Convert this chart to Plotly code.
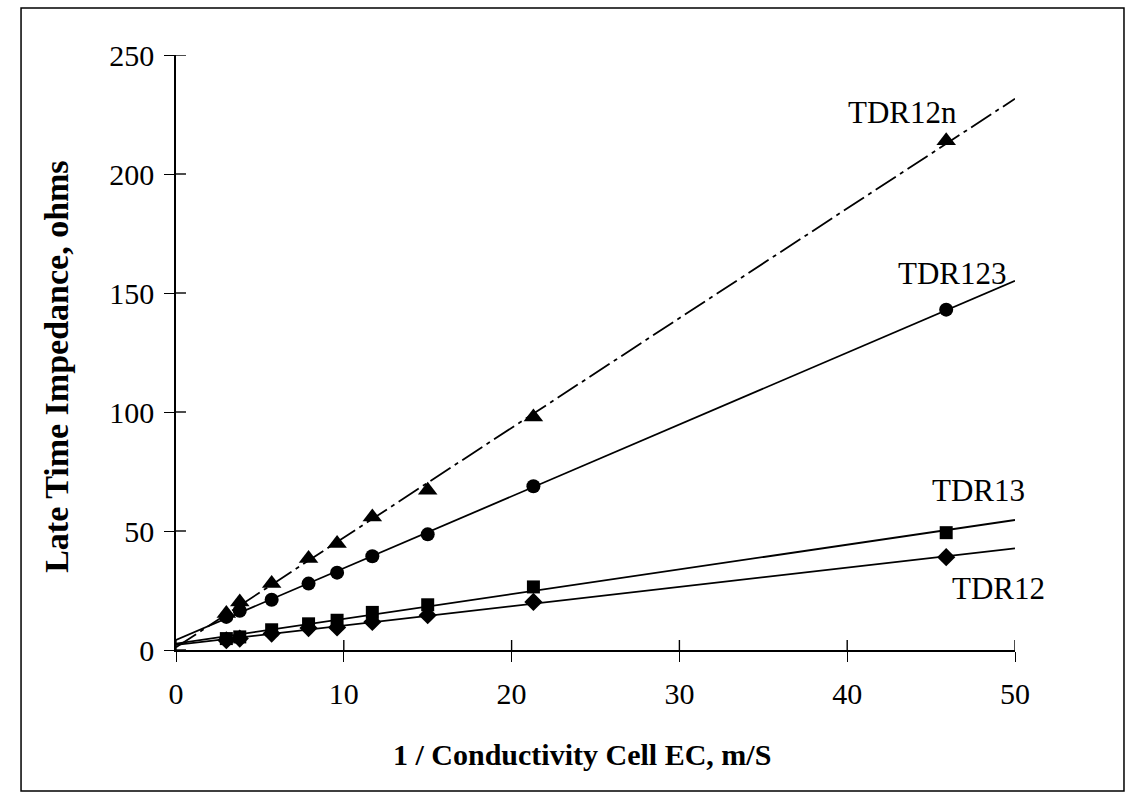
import numpy as np
import plotly.graph_objects as go

# ---- data ----
x_ec = [3.0, 3.8, 5.7, 7.9, 9.6, 11.7, 15.0, 21.3, 45.9]
tdr12n = [15.3, 20.2, 27.9, 38.4, 44.7, 55.9, 67.1, 97.9, 214.0]
tdr123 = [13.9, 16.5, 21.1, 27.9, 32.5, 39.4, 48.6, 68.8, 143.0]
tdr13 = [4.8, 5.5, 8.5, 11.0, 12.5, 15.8, 19.0, 26.5, 49.3]
tdr12 = [4.1, 4.8, 6.9, 9.2, 9.5, 11.8, 14.6, 20.2, 39.0]

series_names = ["TDR12n", "TDR123", "TDR13", "TDR12"]
series_vals = [tdr12n, tdr123, tdr13, tdr12]
symbols = ["triangle-up", "circle", "square", "diamond"]
msizes = [17, 14, 13, 14]
dashes = ["24px,5px,4px,5px", "solid", "solid", "solid"]

label_x = [43.3, 46.3, 47.8, 49.0]
label_y = [226.0, 158.0, 67.0, 26.0]

x_tick_vals = [0, 10, 20, 30, 40, 50]
y_tick_vals = [0, 50, 100, 150, 200, 250]

FONT = "Liberation Serif"

fig = go.Figure()

fit_x = np.array([0.0, 50.0])
for name, vals, sym, ms, dash in zip(series_names, series_vals, symbols, msizes, dashes):
    slope, icpt = np.polyfit(np.array(x_ec), np.array(vals), 1)
    fig.add_trace(go.Scatter(x=fit_x, y=slope * fit_x + icpt, mode="lines",
                             line=dict(color="black", width=1.8, dash=dash),
                             showlegend=False, hoverinfo="skip"))
    fig.add_trace(go.Scatter(x=x_ec, y=vals, mode="markers", name=name,
                             marker=dict(symbol=sym, size=ms, color="black"),
                             showlegend=False))

for name, lx, ly in zip(series_names, label_x, label_y):
    fig.add_annotation(x=lx, y=ly, text=name, showarrow=False,
                       font=dict(family=FONT, size=31, color="black"))

fig.add_annotation(xref="paper", yref="paper", x=-0.1418, y=0.476,
                   xanchor="center", yanchor="middle",
                   text="<b>Late Time Impedance, ohms</b>", textangle=-90,
                   showarrow=False, font=dict(family=FONT, size=34, color="black"))
fig.add_annotation(xref="paper", yref="paper", x=0.484, y=-0.176,
                   xanchor="center", yanchor="middle",
                   text="<b>1 / Conductivity Cell EC, m/S</b>",
                   showarrow=False, font=dict(family=FONT, size=30, color="black"))

# outer frame
fig.add_shape(type="rect", xref="paper", yref="paper",
              x0=-0.1847, x1=1.1299, y0=-0.237, y1=1.079,
              line=dict(color="black", width=1.5))

# inner half of the crossing tick marks (outer half drawn by the axes)
for v in x_tick_vals:
    fig.add_shape(type="line", xref="x", yref="paper", x0=v, x1=v, y0=0, y1=0.0168,
                  line=dict(color="black", width=1.4))
for v in y_tick_vals:
    fig.add_shape(type="line", xref="paper", yref="y", x0=0, x1=0.0119, y0=v, y1=v,
                  line=dict(color="black", width=1.4))

axis_common = dict(showgrid=False, zeroline=False, showline=True,
                   linecolor="black", linewidth=1.6, tickcolor="black",
                   tickwidth=1.4, ticklen=10, ticks="outside")

fig.update_layout(
    width=1127, height=794,
    margin=dict(l=176, r=112, t=55, b=144),
    paper_bgcolor="white", plot_bgcolor="white",
    font=dict(family=FONT, color="black"),
    xaxis=dict(range=[0, 50], tickvals=x_tick_vals,
               tickfont=dict(family=FONT, size=30), ticklabelstandoff=6,
               **axis_common),
    yaxis=dict(range=[0, 250], tickvals=y_tick_vals,
               tickfont=dict(family=FONT, size=30), ticklabelstandoff=4,
               **axis_common),
)

fig.write_html("out.html")
